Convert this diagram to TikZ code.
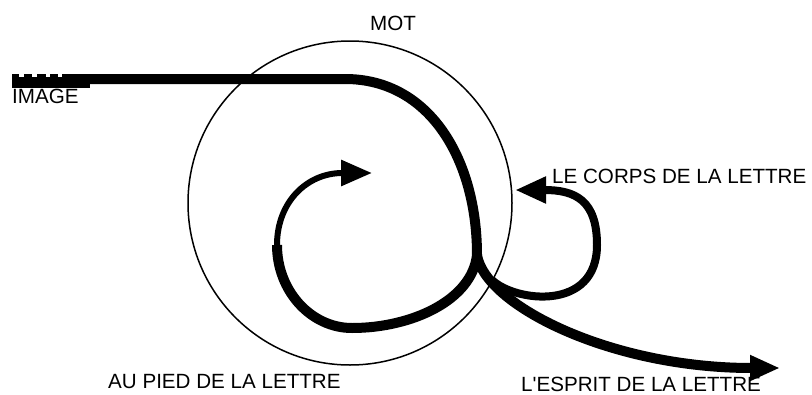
\documentclass[tikz,border=0pt]{standalone}
\usepackage{fontspec}
\setmainfont{Liberation Sans}
\usetikzlibrary{arrows.meta}
\begin{document}
\begin{tikzpicture}[x=1pt,y=-1pt,
  lbl/.style={anchor=base west, inner sep=0pt, font=\fontsize{20.6}{24}\selectfont},
  heavy/.style={line width=10pt},
  medium/.style={line width=8pt},
  light/.style={line width=6pt},
  bigtip/.style={-{Triangle[length=31pt,width=25pt]}},
  notch/.style={fill=white}]
\useasboundingbox (0,0) rectangle (812,394);
\node[draw, circle, line width=1.5pt, minimum size=324pt, inner sep=0pt] (motc) at (350,203) {};
\coordinate (s) at (12,79);
\coordinate (k) at (345,79);
\coordinate (j) at (477,255);
\coordinate (b) at (352,328);
\coordinate (l) at (277,245);
\coordinate (t1) at (372,173);
\coordinate (lo) at (492,280);
\coordinate (lr) at (597,245);
\coordinate (t2) at (515,190);
\coordinate (t3) at (780,368);
% main line
\draw[heavy] (s) -- (k) .. controls (430,79) and (477,160) .. (j);
\fill (12,74) rectangle (90,88);
\fill[notch] (19,74) rectangle (24,77);
\fill[notch] (32,74) rectangle (37,77);
\fill[notch] (46,74) rectangle (50,77);
\fill[notch] (58,74) rectangle (62,77);
% inner spiral
\draw[heavy] (j) .. controls (472,300) and (412,328) .. (b) .. controls (311,328) and (277,291) .. (l);
\draw[light, bigtip] (l) .. controls (277,202) and (307,173) .. (t1);
% loop
\draw[medium, bigtip] (lo) .. controls (515,302) and (597,312) .. (lr) .. controls (597,200) and (575,190) .. (t2);
% esprit
\draw[heavy, -{Triangle[length=30pt,width=24pt]}] (j) .. controls (485,305) and (610,368) .. (t3);
% labels
\node[lbl] (mot) at (370,30) {MOT};
\node[lbl] (img) at (12,103) {IMAGE};
\node[lbl] (corps) at (552,183) {LE CORPS DE LA LETTRE};
\node[lbl] (pied) at (108,388) {AU PIED DE LA LETTRE};
\node[lbl] (esprit) at (521,391) {L\textquotesingle ESPRIT DE LA LETTRE};
\end{tikzpicture}
\end{document}
